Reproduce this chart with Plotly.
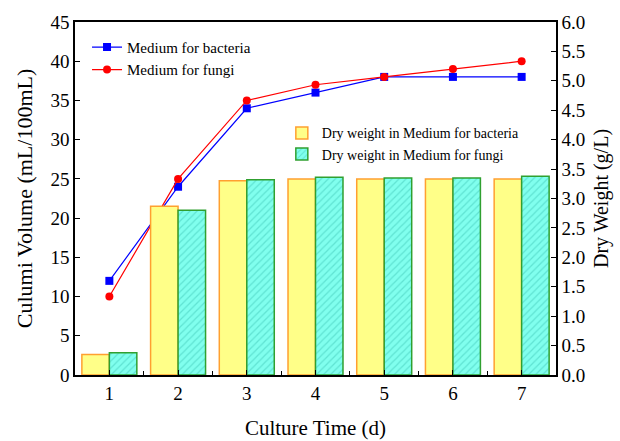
import plotly.graph_objects as go

days = [1, 2, 3, 4, 5, 6, 7]
vol_bacteria = [12, 24, 34, 36, 38, 38, 38]
vol_fungi = [10, 25, 35, 37, 38, 39, 40]
dry_bacteria = [0.35, 2.87, 3.30, 3.33, 3.33, 3.33, 3.33]
dry_fungi = [0.38, 2.80, 3.32, 3.36, 3.35, 3.35, 3.38]

FONT = "Liberation Serif"

fig = go.Figure()

fig.add_trace(go.Bar(
    x=days, y=dry_bacteria, yaxis="y2", name="Dry weight in Medium for bacteria",
    marker=dict(color="#FFFF88", line=dict(color="#FFA030", width=1.5)),
    legend="legend2",
))
fig.add_trace(go.Bar(
    x=days, y=dry_fungi, yaxis="y2", name="Dry weight in Medium for fungi",
    marker=dict(color="#80FFEE", line=dict(color="#30A030", width=1.5),
                pattern=dict(shape="/", fgcolor="#40C8B8", bgcolor="#80FFEE",
                             size=5, solidity=0.25)),
    legend="legend2",
))
fig.add_trace(go.Scatter(
    x=days, y=vol_bacteria, name="Medium for bacteria", mode="lines+markers",
    line=dict(color="#0000FF", width=1.2),
    marker=dict(symbol="square", size=8, color="#0000FF"),
    legend="legend",
))
fig.add_trace(go.Scatter(
    x=days, y=vol_fungi, name="Medium for fungi", mode="lines+markers",
    line=dict(color="#FF0000", width=1.2),
    marker=dict(symbol="circle", size=8, color="#FF0000"),
    legend="legend",
))

axis_common = dict(showline=True, linecolor="black", linewidth=1.5,
                   ticks="inside", ticklen=5, tickcolor="black",
                   showgrid=False, zeroline=False, automargin=False,
                   tickfont=dict(family=FONT, size=19, color="black"))

fig.update_layout(
    width=620, height=441,
    margin=dict(l=75, r=64, t=22, b=66),
    paper_bgcolor="white", plot_bgcolor="white",
    barmode="group", bargap=0.2, bargroupgap=0,
    font=dict(family=FONT, color="black"),
    xaxis=dict(range=[0.5, 7.5], tickvals=days, mirror=True,
               title=dict(text="Culture Time (d)", font=dict(family=FONT, size=21), standoff=18),
               minor=dict(tickvals=[1.5, 2.5, 3.5, 4.5, 5.5, 6.5], ticks="inside",
                          ticklen=4, tickcolor="black"),
               **axis_common),
    yaxis=dict(range=[0, 45], dtick=5,
               title=dict(text="Culumi Volume (mL/100mL)", font=dict(family=FONT, size=22), standoff=12),
               **axis_common),
    yaxis2=dict(range=[0, 6], dtick=0.5, tickformat=".1f", overlaying="y", side="right",
                title=dict(text="Dry Weight (g/L)", font=dict(family=FONT, size=20), standoff=10),
                **axis_common),
    legend=dict(x=0.025, y=0.975, xanchor="left", yanchor="top",
                bgcolor="rgba(0,0,0,0)", font=dict(family=FONT, size=15),
                itemwidth=30, tracegroupgap=0),
    legend2=dict(x=0.43, y=0.73, xanchor="left", yanchor="top",
                 bgcolor="rgba(0,0,0,0)", font=dict(family=FONT, size=14),
                 itemwidth=30, tracegroupgap=0),
)

fig.write_html("out.html", config={"displayModeBar": False},
               post_script="document.body.style.margin='0';document.body.style.overflow='hidden';")
